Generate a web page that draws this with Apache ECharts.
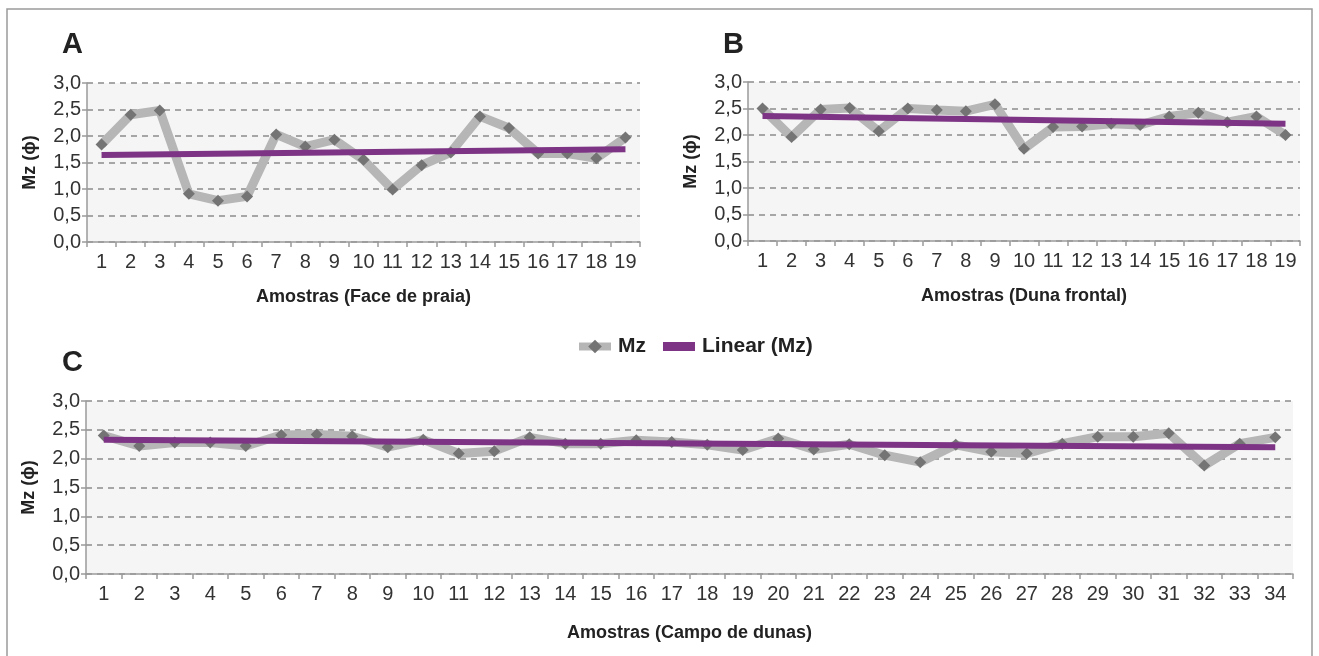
<!DOCTYPE html>
<html>
<head>
<meta charset="utf-8">
<script src="https://cdn.jsdelivr.net/npm/echarts@6/dist/echarts.min.js"></script>
<style>
html,body{margin:0;padding:0;background:#fff;}
#chart{width:1319px;height:656px;}
</style>
</head>
<body>
<div id="chart"></div>
<script>
// ---- data ----
var catsA = ['1','2','3','4','5','6','7','8','9','10','11','12','13','14','15','16','17','18','19'];
var mzA = [1.84,2.40,2.48,0.91,0.78,0.86,2.03,1.80,1.93,1.55,0.99,1.45,1.69,2.37,2.15,1.67,1.67,1.58,1.97];
var trendA = [1.64, 1.75];

var catsB = ['1','2','3','4','5','6','7','8','9','10','11','12','13','14','15','16','17','18','19'];
var mzB = [2.50,1.96,2.48,2.51,2.07,2.50,2.47,2.45,2.58,1.74,2.15,2.16,2.21,2.19,2.35,2.42,2.24,2.35,2.00];
var trendB = [2.36, 2.21];

var catsC = ['1','2','3','4','5','6','7','8','9','10','11','12','13','14','15','16','17','18','19','20','21','22','23','24','25','26','27','28','29','30','31','32','33','34'];
var mzC = [2.40,2.22,2.28,2.28,2.22,2.41,2.42,2.39,2.20,2.33,2.09,2.13,2.37,2.26,2.26,2.32,2.29,2.24,2.15,2.35,2.16,2.25,2.06,1.94,2.24,2.12,2.09,2.26,2.38,2.38,2.44,1.88,2.26,2.37];
var trendC = [2.33, 2.20];

var yTicks = ['0,0','0,5','1,0','1,5','2,0','2,5','3,0'];

var titleA = 'Amostras (Face de praia)';
var titleB = 'Amostras (Duna frontal)';
var titleC = 'Amostras (Campo de dunas)';
var yName = 'Mz (ϕ)';

// ---- styling ----
var FONT = "'Liberation Sans', Arial, sans-serif";
var GRAY_LINE = '#b6b6b6';
var MARKER = '#747474';
var PURPLE = '#7d3484';
var AXIS = '#9a9a9a';

function xAxis(idx, cats, name, gap) {
  return {
    type: 'category', gridIndex: idx, data: cats, boundaryGap: true,
    name: name, nameLocation: 'middle', nameGap: gap,
    nameTextStyle: {fontFamily: FONT, fontWeight: 'bold', fontSize: 18, color: '#222'},
    axisLine: {show: true, lineStyle: {color: AXIS, width: 1.5}},
    axisTick: {show: true, alignWithLabel: false, length: 5, lineStyle: {color: AXIS, width: 1.5}},
    axisLabel: {fontFamily: FONT, fontSize: 20, color: '#333', margin: 10, interval: 0},
    splitLine: {show: false}
  };
}
function yAxis(idx) {
  return {
    type: 'value', gridIndex: idx, min: 0, max: 3, interval: 0.5,
    name: yName, nameLocation: 'middle', nameGap: 48, nameRotate: 90,
    nameTextStyle: {fontFamily: FONT, fontWeight: 'bold', fontSize: 18, color: '#222'},
    axisLine: {show: true, lineStyle: {color: AXIS, width: 1.5}},
    axisTick: {show: true, length: 5, lineStyle: {color: AXIS, width: 1.5}},
    axisLabel: {fontFamily: FONT, fontSize: 20, color: '#333', margin: 6,
      formatter: function (v) { return yTicks[Math.round(v / 0.5)]; }},
    splitLine: {show: true, lineStyle: {color: '#8c8c8c', width: 1.5, type: [6, 5]}}
  };
}
function mzSeries(idx, data) {
  return {
    name: 'Mz', type: 'line', xAxisIndex: idx, yAxisIndex: idx, data: data,
    symbol: 'diamond', symbolSize: 12, showSymbol: true,
    lineStyle: {color: GRAY_LINE, width: 9},
    itemStyle: {color: MARKER},
    z: 2, silent: true, animation: false
  };
}
function trendSeries(idx, ends, n) {
  return {
    name: 'Linear (Mz)', type: 'line', xAxisIndex: idx, yAxisIndex: idx,
    data: [[0, ends[0]], [n - 1, ends[1]]],
    symbol: 'none',
    lineStyle: {color: PURPLE, width: 6},
    itemStyle: {color: PURPLE},
    z: 3, silent: true, animation: false
  };
}

var chart = echarts.init(document.getElementById('chart'), null, {renderer: 'canvas'});
chart.setOption({
  backgroundColor: '#ffffff',
  animation: false,
  graphic: [{
    type: 'rect', shape: {x: 7, y: 9, width: 1305, height: 660},
    style: {fill: 'none', stroke: '#9a9a9a', lineWidth: 1.5}, z: -10
  }],
  title: [
    {text: 'A', left: 57, top: 25, textStyle: {fontFamily: FONT, fontWeight: 'bold', fontSize: 29, color: '#222'}},
    {text: 'B', left: 718, top: 25, textStyle: {fontFamily: FONT, fontWeight: 'bold', fontSize: 29, color: '#222'}},
    {text: 'C', left: 57, top: 343, textStyle: {fontFamily: FONT, fontWeight: 'bold', fontSize: 29, color: '#222'}}
  ],
  legend: {
    left: 575, top: 336, padding: 0, itemGap: 17, itemWidth: 32, itemHeight: 17,
    data: [
      {name: 'Mz', lineStyle: {width: 8, color: GRAY_LINE}, itemStyle: {color: MARKER}},
      {name: 'Linear (Mz)', icon: 'path://M0,0L28,0L28,8L0,8Z', itemStyle: {color: PURPLE}}
    ],
    textStyle: {fontFamily: FONT, fontWeight: 'bold', fontSize: 21, color: '#222', padding: [0, 0, 0, 2]}
  },
  grid: [
    {left: 87, top: 83, width: 553, height: 159, show: true, backgroundColor: '#f5f5f5', borderWidth: 0},
    {left: 748, top: 82, width: 552, height: 159, show: true, backgroundColor: '#f5f5f5', borderWidth: 0},
    {left: 86, top: 401, width: 1207, height: 173, show: true, backgroundColor: '#f5f5f5', borderWidth: 0}
  ],
  xAxis: [xAxis(0, catsA, titleA, 46), xAxis(1, catsB, titleB, 46), xAxis(2, catsC, titleC, 50)],
  yAxis: [yAxis(0), yAxis(1), yAxis(2)],
  series: [
    mzSeries(0, mzA), trendSeries(0, trendA, catsA.length),
    mzSeries(1, mzB), trendSeries(1, trendB, catsB.length),
    mzSeries(2, mzC), trendSeries(2, trendC, catsC.length)
  ]
});
</script>
</body>
</html>
